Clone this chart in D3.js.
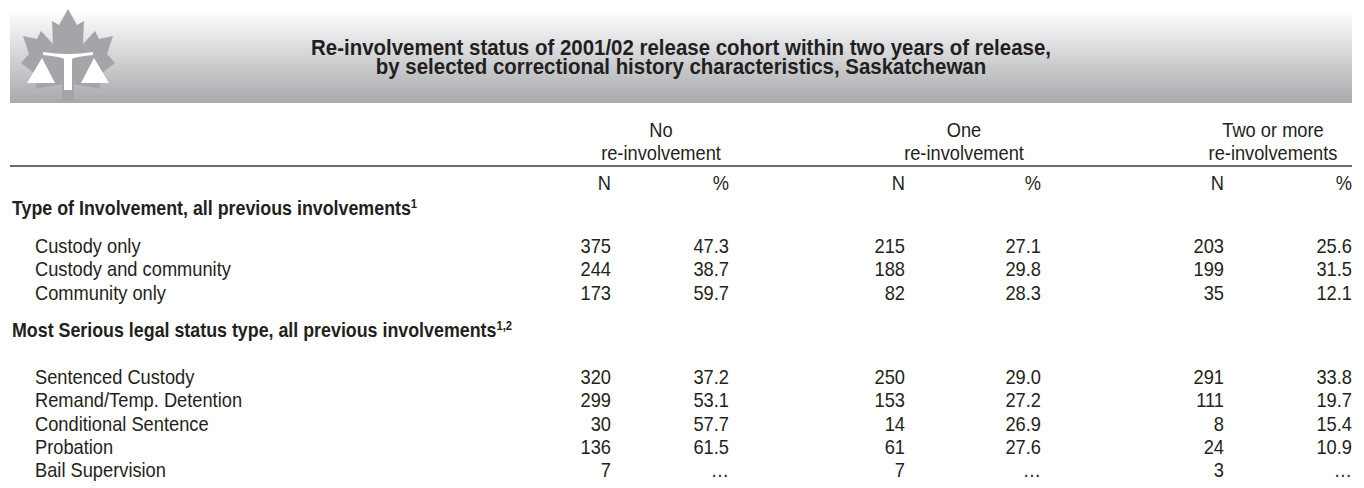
<html>
<head>
<script src="https://d3js.org/d3.v7.min.js"></script>
<style>
  body { margin: 0; background: #fff; }
  text { font-family: "Liberation Sans", Arial, sans-serif; fill: #231f20; }
  .title { font-weight: bold; font-size: 22px; }
  .sect { font-weight: bold; font-size: 20.5px; }
  .cell { font-size: 21px; }
</style>
</head>
<body>
<svg id="chart" width="1364" height="488"></svg>
<script>
// ---- data ----
const titleLines = ["Re-involvement status of 2001/02 release cohort within two years of release,",
                    "by selected correctional history characteristics, Saskatchewan"];
const groupTop = ["No", "One", "Two or more"];
const groupBottom = ["re-involvement", "re-involvement", "re-involvements"];
const subHeads = ["N", "%"];

const sectionNames = ["Type of Involvement, all previous involvements",
                      "Most Serious legal status type, all previous involvements"];
const sectionNotes = ["1", "1,2"];

const involvementRows = ["Custody only", "Custody and community", "Community only"];
const involvementN = [[375, 215, 203], [244, 188, 199], [173, 82, 35]];
const involvementPct = [[47.3, 27.1, 25.6], [38.7, 29.8, 31.5], [59.7, 28.3, 12.1]];

const legalRows = ["Sentenced Custody", "Remand/Temp. Detention", "Conditional Sentence", "Probation", "Bail Supervision"];
const legalN = [[320, 250, 291], [299, 153, 111], [30, 14, 8], [136, 61, 24], [7, 7, 3]];
const legalPct = [[37.2, 29.0, 33.8], [53.1, 27.2, 19.7], [57.7, 26.9, 15.4], [61.5, 27.6, 10.9], [null, null, null]];

// ---- layout ----
const svg = d3.select("svg#chart");
const width = +svg.attr("width");
const margin = { left: 10, right: 12, top: 10 };
const narrow = 0.87;   // no condensed face installed, so squeeze the regular one

// column right edges for N and %, group centres for the headers
const colKeys = ["N0", "P0", "N1", "P1", "N2", "P2"];
const xCol = d3.scaleOrdinal().domain(colKeys).range([611, 729, 905, 1041, 1224, 1352]);
const xGroup = d3.scaleOrdinal().domain([0, 1, 2]).range([661, 964, 1273]);

// vertical: one unit = one text line
const lineH = 23.4;
const y = d3.scaleLinear().domain([0, 1]).range([137, 137 + lineH]);

const lines = [];
let u = 0;
lines.push({ kind: "group", u: u, row: 0 });
u += 0.98;
lines.push({ kind: "group", u: u, row: 1 });
u += 1.3;
lines.push({ kind: "sub", u: u });
u += 1.07;
lines.push({ kind: "section", u: u, i: 0 });
u += 1.6;
involvementRows.forEach((r, i) => {
  lines.push({ kind: "row", u: u, label: r, n: involvementN[i], p: involvementPct[i] });
  u += 1;
});
u += 0.6;
lines.push({ kind: "section", u: u, i: 1 });
u += 2.0;
legalRows.forEach((r, i) => {
  lines.push({ kind: "row", u: u, label: r, n: legalN[i], p: legalPct[i] });
  u += 1;
});

function place(sel, fx, fy, sx) {
  sel.attr("transform", (d, i) => `translate(${fx(d, i)},${fy(d, i)}) scale(${sx},1)`);
}

// ---- banner ----
const defs = svg.append("defs");
const grad = defs.append("linearGradient").attr("id", "band")
  .attr("x1", 0).attr("y1", 0).attr("x2", 0).attr("y2", 1);
grad.append("stop").attr("offset", "0%").attr("stop-color", "#ffffff");
grad.append("stop").attr("offset", "100%").attr("stop-color", "#a7a9ac");

svg.append("rect")
  .attr("x", margin.left).attr("y", margin.top)
  .attr("width", width - margin.left - margin.right).attr("height", 93)
  .attr("fill", "url(#band)");

// logo: maple leaf with scales
const leafHalf = [[0, 0], [9, 16], [16, 12], [15, 35], [27, 22], [31, 30], [45, 27], [39, 45], [47, 54],
                  [30, 67], [33, 80], [6, 75], [6, 92]];
const leafPts = leafHalf.concat(leafHalf.slice().reverse().map(p => [-p[0], p[1]]));
const logo = svg.append("g").attr("transform", "translate(68,9)");
logo.append("path")
  .attr("d", d3.line()(leafPts) + "Z")
  .attr("fill", "#a3a5a8");
logo.append("path")
  .attr("d", "M-25,43 Q0,47 25,43 L25,46 Q6,48 4,50 L4,81 L-4,81 L-4,50 Q-6,48 -25,46 Z")
  .attr("fill", "#fff");
logo.append("path").attr("d", "M-26,49 L-41,74 L-13,74 Z").attr("fill", "#fff");
logo.append("path").attr("d", "M26,49 L13,74 L41,74 Z").attr("fill", "#fff");

// title
svg.append("g").selectAll("text").data(titleLines).join("text")
  .attr("class", "title")
  .attr("text-anchor", "middle")
  .call(place, () => 681, (d, i) => 55 + i * 19, 0.93)
  .text(d => d);

// rule under the column heads
svg.append("line")
  .attr("x1", margin.left).attr("x2", width - margin.right)
  .attr("y1", 166).attr("y2", 166)
  .attr("stroke", "#3d3d3d").attr("stroke-width", 1.7);

// ---- table ----
const g = svg.append("g");

lines.filter(d => d.kind === "group").forEach(d => {
  g.append("g").selectAll("text").data(d.row === 0 ? groupTop : groupBottom).join("text")
    .attr("class", "cell")
    .attr("text-anchor", "middle")
    .call(place, (t, i) => xGroup(i), () => y(d.u), narrow)
    .text(t => t);
});

lines.filter(d => d.kind === "sub").forEach(d => {
  g.append("g").selectAll("text").data(colKeys).join("text")
    .attr("class", "cell")
    .attr("text-anchor", "end")
    .call(place, k => xCol(k), () => y(d.u), narrow)
    .text((k, i) => subHeads[i % 2]);
});

lines.filter(d => d.kind === "section").forEach(d => {
  const t = g.append("text").datum(d).attr("class", "sect")
    .call(place, () => 12, s => y(s.u), narrow);
  t.append("tspan").text(sectionNames[d.i]);
  t.append("tspan").attr("dy", -7).attr("font-size", 13).text(sectionNotes[d.i]);
});

lines.filter(d => d.kind === "row").forEach(d => {
  g.append("text").datum(d).attr("class", "cell")
    .call(place, () => 35, s => y(s.u), narrow)
    .text(d.label);
  const cells = [];
  d.n.forEach((v, i) => {
    cells.push({ k: "N" + i, t: String(v) });
    cells.push({ k: "P" + i, t: d.p[i] == null ? "\u2026" : d.p[i].toFixed(1) });
  });
  g.append("g").selectAll("text").data(cells).join("text")
    .attr("class", "cell")
    .attr("text-anchor", "end")
    .call(place, c => xCol(c.k), () => y(d.u), narrow)
    .text(c => c.t);
});
</script>
</body>
</html>
